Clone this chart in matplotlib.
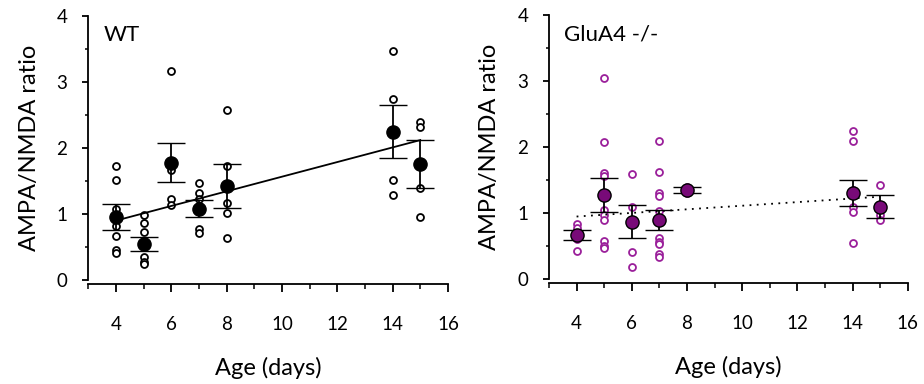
import matplotlib.pyplot as plt
from matplotlib.ticker import MultipleLocator
import numpy as np

plt.rcParams['font.family'] = ['Lato', 'DejaVu Sans']

ages = [4, 5, 6, 7, 8, 14, 15]

# individual cells, WT
wt_points = [
    [1.73, 1.51, 1.08, 0.95, 0.82, 0.66, 0.46, 0.41],
    [0.98, 0.87, 0.72, 0.53, 0.35, 0.28, 0.24],
    [3.17, 1.80, 1.67, 1.22, 1.14],
    [1.47, 1.32, 1.22, 1.12, 0.77, 0.71],
    [2.58, 1.73, 1.17, 1.01, 0.64],
    [3.47, 2.74, 1.52, 1.29],
    [2.40, 2.32, 1.39, 0.95],
]
wt_mean = [0.95, 0.54, 1.78, 1.08, 1.42, 2.25, 1.76]
wt_sem = [0.195, 0.105, 0.295, 0.13, 0.335, 0.395, 0.36]

# individual cells, GluA4 -/-
ko_points = [
    [0.84, 0.78, 0.70, 0.61, 0.43],
    [3.04, 2.08, 1.61, 1.56, 1.05, 0.97, 0.90, 0.58, 0.50, 0.48],
    [1.60, 1.09, 0.87, 0.42, 0.19],
    [2.10, 1.63, 1.31, 1.26, 1.03, 0.62, 0.56, 0.53, 0.38, 0.34],
    [1.39, 1.31],
    [2.24, 2.09, 1.35, 1.10, 1.02, 0.55],
    [1.43, 1.10, 0.97, 0.90],
]
ko_mean = [0.67, 1.28, 0.87, 0.90, 1.35, 1.31, 1.10]
ko_sem = [0.075, 0.255, 0.25, 0.155, 0.04, 0.20, 0.17]

# linear fits (end values)
wt_fit = [0.90, 2.12]
ko_fit = [0.95, 1.25]
fit_x = [4, 15]

purple_open = '#9a1f9a'
purple_fill = '#780a78'

fig = plt.figure(figsize=(9.24, 3.84), dpi=100)
ax1 = fig.add_axes([88.3 / 924, 104 / 384, 359.7 / 924, 264 / 384])
ax2 = fig.add_axes([549 / 924, 104.7 / 384, 358.7 / 924, 264.3 / 384])


def draw_panel(ax, points, mean, sem, fit, open_color, fill_color, line_style, label):
    for age, vals in zip(ages, points):
        ax.plot([age] * len(vals), vals, 'o', mfc='white', mec=open_color,
                ms=5, mew=1.3, zorder=2)
    ax.plot(fit_x, fit, color='black', ls=line_style, lw=1.3, zorder=3)
    ax.errorbar(ages, mean, yerr=sem, fmt='o', ms=9.5, mfc=fill_color, mec='black',
                mew=1.0, ecolor='black', elinewidth=1.3, capsize=10, capthick=1.3, zorder=4)
    ax.set_xlim(3, 16)
    ax.set_ylim(0, 4)
    ax.xaxis.set_major_locator(MultipleLocator(2))
    ax.xaxis.set_minor_locator(MultipleLocator(1))
    ax.yaxis.set_major_locator(MultipleLocator(1))
    ax.yaxis.set_minor_locator(MultipleLocator(0.5))
    ax.spines['top'].set_visible(False)
    ax.spines['right'].set_visible(False)
    ax.spines['bottom'].set_position(('outward', 3))
    for s in ('left', 'bottom'):
        ax.spines[s].set_linewidth(1.3)
    ax.tick_params(which='major', length=6, width=1.3, labelsize=13.5, pad=17)
    ax.tick_params(which='minor', length=3.5, width=1.1)
    ax.tick_params(axis='y', which='major', length=4, pad=11)
    ax.tick_params(axis='y', which='minor', length=2.5)
    ax.set_xlabel('Age (days)', fontsize=17, labelpad=17)
    ax.set_ylabel('AMPA/NMDA ratio', fontsize=17, labelpad=12)
    ax.text(0.042, 0.965, label, transform=ax.transAxes, fontsize=16, va='top', ha='left')


draw_panel(ax1, wt_points, wt_mean, wt_sem, wt_fit, 'black', 'black', '-', 'WT')
draw_panel(ax2, ko_points, ko_mean, ko_sem, ko_fit, purple_open, purple_fill, (0, (1, 3)), 'GluA4 -/-')

fig.savefig('out.png', dpi=100)
